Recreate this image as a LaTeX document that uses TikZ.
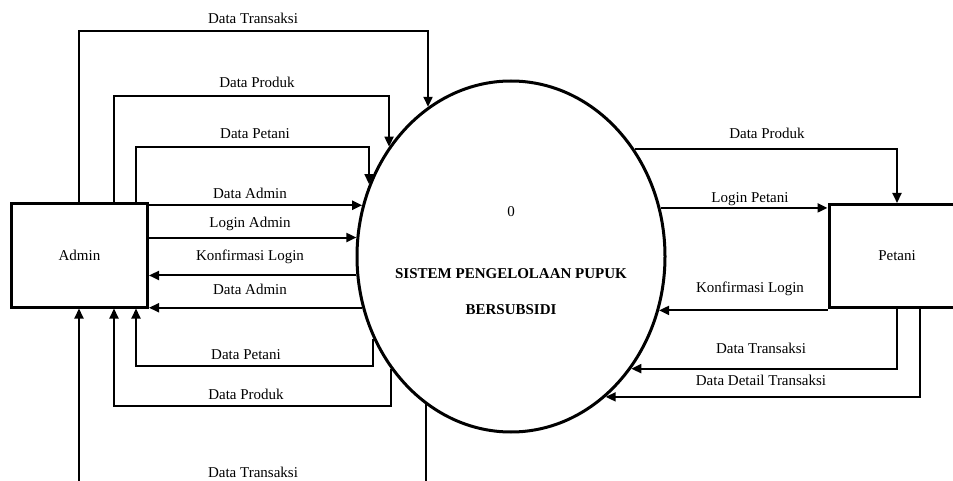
\documentclass[tikz,border=0pt]{standalone}
\usepackage{fontspec}
\setmainfont{Liberation Serif}
\usetikzlibrary{arrows.meta,shapes.geometric}

\begin{document}
\begin{tikzpicture}[x=1pt,y=-1pt,
  entitas/.style={draw,line width=3pt,minimum width=136pt,minimum height=103pt,inner sep=0pt,font=\fontsize{15}{18}\selectfont},
  proses/.style={draw,ellipse,line width=3pt,minimum width=308pt,minimum height=351pt,inner sep=0pt},
  alur/.style={line width=2pt,-{Triangle[length=10pt,width=9pt]}},
  ket/.style={font=\fontsize{15}{18}\selectfont,inner sep=1pt}]

\useasboundingbox (0,0) rectangle (953,481);
\clip (0,0) rectangle (953,481);

\node[entitas] (admin) at (79.5,255.5) {Admin};
\node[entitas] (petani) at (897,256) {Petani};
\node[proses] (sistem) at (511,256.5) {};

% isi proses
\node[ket] (nomor) at (511,212) {0};
\node[ket,font=\fontsize{15}{18}\selectfont\bfseries] (judul) at (511,274) {SISTEM PENGELOLAAN PUPUK};
\node[ket,font=\fontsize{15}{18}\selectfont\bfseries] (judul2) at (511,310) {BERSUBSIDI};

% Admin -> Sistem (atas)
\draw[alur] (admin.north -| 79,0) -- (79,31) -| (sistem.119.3);
\draw[alur] (admin.north -| 114,0) -- (114,96) -| (sistem.138);
\draw[alur] (admin.north -| 136,0) -- (136,147) -| (sistem.153.3);
\node[ket] (k1) at (253,18) {Data Transaksi};
\node[ket] (k2) at (257,82) {Data Produk};
\node[ket] (k3) at (255,134) {Data Petani};

% Admin <-> Sistem
\draw[alur] (admin.east |- sistem.161.7) -- (sistem.161.7);
\draw[alur] (admin.east |- sistem.173.7) -- (sistem.173.7);
\draw[alur] (sistem.187.4) -- (admin.east |- sistem.187.4);
\draw[alur] (sistem.199.5) -- (admin.east |- sistem.199.5);
\node[ket] (k4) at (250,193) {Data Admin};
\node[ket] (k5) at (250,224) {Login Admin};
\node[ket] (k6) at (250,257) {Konfirmasi Login};
\node[ket] (k7) at (250,289) {Data Admin};

% Sistem -> Admin (bawah)
\draw[alur] (sistem.211.4) |- (136,366) -- (admin.south -| 136,0);
\draw[alur] (sistem.223.8) |- (114,406) -- (admin.south -| 114,0);
\draw[alur] (sistem.240.4) |- (79,500) -- (admin.south -| 79,0);
\node[ket] (k8) at (246,355) {Data Petani};
\node[ket] (k9) at (246,394) {Data Produk};
\node[ket] (k10) at (253,472) {Data Transaksi};

% Sistem <-> Petani
\draw[alur] (sistem.41.5) -| (petani.north);
\draw[alur] (sistem.18) -- (petani.west |- sistem.18);
\draw[alur] (petani.west |- sistem.340.2) -- (sistem.340.2);
\draw[alur] (petani.south) |- (sistem.317.2);
\draw[alur] (petani.south -| 920,0) |- (sistem.304.4);
\node[ket] (k11) at (767,133) {Data Produk};
\node[ket] (k12) at (750,199) {Login Petani};
\node[ket] (k13) at (750,289) {Konfirmasi Login};
\node[ket] (k14) at (761,348) {Data Transaksi};
\node[ket] (k15) at (761,380) {Data Detail Transaksi};

\end{tikzpicture}
\end{document}
